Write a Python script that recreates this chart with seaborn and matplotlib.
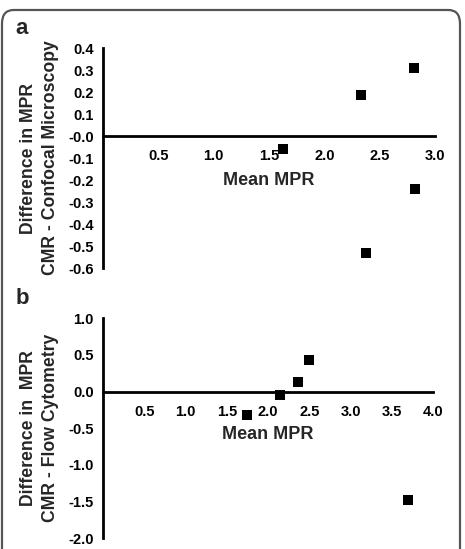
import numpy as np
import pandas as pd
import matplotlib
matplotlib.use("Agg")
import matplotlib.pyplot as plt
import seaborn as sns
from matplotlib.patches import FancyBboxPatch

# -------------------------- data --------------------------
# panel a: CMR vs confocal microscopy
mean_a = [2.81, 2.33, 1.63, 2.82, 2.38]
diff_a = [0.31, 0.185, -0.057, -0.24, -0.53]
# panel b: CMR vs flow cytometry
mean_b = [1.74, 2.15, 2.36, 2.50, 3.70]
diff_b = [-0.32, -0.05, 0.13, 0.43, -1.48]

xticks_a = [0.5, 1.0, 1.5, 2.0, 2.5, 3.0]
yticks_a = [0.4, 0.3, 0.2, 0.1, 0.0, -0.1, -0.2, -0.3, -0.4, -0.5, -0.6]
ylabels_a = ["0.4", "0.3", "0.2", "0.1", "-0.0", "-0.1", "-0.2", "-0.3", "-0.4", "-0.5", "-0.6"]
xticks_b = [0.5, 1.0, 1.5, 2.0, 2.5, 3.0, 3.5, 4.0]
yticks_b = [1.0, 0.5, 0.0, -0.5, -1.0, -1.5, -2.0]

sns.set_style("white")
plt.rcParams['font.family'] = ['Liberation Sans', 'DejaVu Sans']
plt.rcParams['font.weight'] = 'bold'

W, H = 465, 549
fig = plt.figure(figsize=(W / 100, H / 100), dpi=100)

# rounded frame around the figure
frame = FancyBboxPatch((2 / W, -30 / H), 458 / W, (H - 10 + 30) / H,
                       boxstyle="round,pad=0,rounding_size=0.025",
                       transform=fig.transFigure, fill=False,
                       edgecolor="#555555", linewidth=1.6)
fig.patches.append(frame)


def draw_panel(rect, x, y, xlim, ylim, xticks, yticks, ylabels, ylabel, letter, xlab_off):
    ax = fig.add_axes(rect)
    df = pd.DataFrame({"x": x, "y": y})
    sns.scatterplot(data=df, x="x", y="y", marker="s", s=48, color="black",
                    linewidth=0, ax=ax, clip_on=False, zorder=5)
    ax.set_xlim(*xlim)
    ax.set_ylim(*ylim)
    for s in ["top", "right"]:
        ax.spines[s].set_visible(False)
    ax.spines["bottom"].set_position(("data", 0))
    for s in ["left", "bottom"]:
        ax.spines[s].set_linewidth(2.0)
        ax.spines[s].set_color("black")
    ax.set_xticks(xticks)
    ax.set_xticklabels([f"{v:.1f}" for v in xticks])
    ax.set_yticks(yticks)
    ax.set_yticklabels(ylabels)
    ax.tick_params(axis="both", direction="out", length=5.5, width=2,
                   labelsize=10.5, colors="black")
    ax.tick_params(axis="y", pad=1)
    ax.tick_params(axis="x", pad=4)
    for lab in ax.get_xticklabels() + ax.get_yticklabels():
        lab.set_fontweight("bold")
    ax.set_xlabel("")
    ax.set_ylabel(ylabel, fontsize=12.7, fontweight="bold", labelpad=7, linespacing=1.35)
    ax.annotate("Mean MPR", xy=(0.5, 0), xycoords=("axes fraction", "data"),
                xytext=(0, xlab_off), textcoords="offset points",
                ha="center", va="center", fontsize=13, fontweight="bold")
    ax.text(-0.265, 1.09, letter, transform=ax.transAxes, fontsize=16,
            fontweight="bold", ha="left", va="center")
    return ax


draw_panel([103 / W, 1 - 268 / H, 332 / W, 220 / H], mean_a, diff_a,
           (0, 3.0), (-0.6, 0.4), xticks_a, yticks_a, ylabels_a,
           "Difference in MPR\nCMR - Confocal Microscopy", "a", -32)

draw_panel([103 / W, 1 - 538.3 / H, 330 / W, 220 / H], mean_b, diff_b,
           (0, 4.0), (-2.0, 1.0), xticks_b, yticks_b,
           [f"{v:.1f}" for v in yticks_b],
           "Difference in  MPR\nCMR - Flow Cytometry", "b", -31)

fig.savefig("out.png", dpi=100)
